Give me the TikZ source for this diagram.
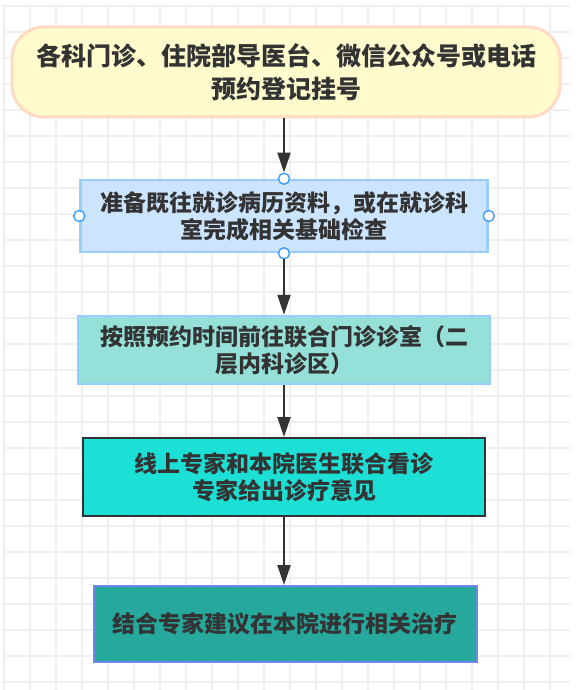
\documentclass[tikz,border=0pt]{standalone}
\usepackage{fontspec}
\usetikzlibrary{arrows.meta}
\newfontfamily\cjk{Noto Sans CJK SC}
\definecolor{gridc}{HTML}{EFEFEF}
\definecolor{txt}{HTML}{333333}
\definecolor{yfill}{HTML}{FFFBCC}
\definecolor{ydraw}{HTML}{FFDAC4}
\definecolor{bfill}{HTML}{CCE5FF}
\definecolor{bdraw}{HTML}{99CCFF}
\definecolor{tfill}{HTML}{95E1D9}
\definecolor{cfill}{HTML}{1CE0D6}
\definecolor{dfill}{HTML}{26A89D}
\definecolor{ddraw}{HTML}{6F85EE}
\definecolor{hdraw}{HTML}{3D9BFF}
\begin{document}
\begin{tikzpicture}[x=1pt,y=-1pt,
  box/.style={rectangle,align=center,text=txt,inner sep=0pt,
    font={\cjk\bfseries\fontsize{23}{27}\selectfont}},
  arr/.style={draw=txt,line width=2pt,-{Triangle[width=13pt,length=20pt]}},
  handle/.style={circle,fill=white,draw=hdraw,line width=1.4pt,minimum size=11pt,inner sep=0pt}]
\useasboundingbox (0,0) rectangle (581,690);
\fill[white] (0,0) rectangle (581,690);
% grid
\foreach \k in {0,...,21} {\draw[gridc,line width=1.5pt] (4+26*\k,6) -- (4+26*\k,690);}
\foreach \k in {0,...,26} {\draw[gridc,line width=1.5pt] (4,6+26*\k) -- (570,6+26*\k);}
% boxes
\node[box,draw=ydraw,fill=yfill,line width=3pt,rounded corners=32pt,
  minimum width=548pt,minimum height=90pt,
  font={\cjk\bfseries\fontsize{25}{33}\selectfont}] (b1) at (286,72)
  {各科门诊、住院部导医台、微信公众号或电话\\预约登记挂号};
\node[box,draw=bdraw,fill=bfill,line width=2.5pt,minimum width=407pt,minimum height=72pt] (b2) at (284,216)
  {准备既往就诊病历资料，或在就诊科\\室完成相关基础检查};
\node[box,draw=bdraw,fill=tfill,line width=2.5pt,minimum width=412pt,minimum height=68pt] (b3) at (284,350)
  {按照预约时间前往联合门诊诊室（二\\层内科诊区）};
\node[box,draw=txt,fill=cfill,line width=2pt,minimum width=402pt,minimum height=78pt] (b4) at (284,477)
  {线上专家和本院医生联合看诊\\专家给出诊疗意见};
\node[box,draw=ddraw,fill=dfill,line width=2pt,minimum width=383pt,minimum height=76pt] (b5) at (285,624)
  {结合专家建议在本院进行相关治疗};
% handles
\node[handle] (h1) at (b2.north) {};
\node[handle] (h2) at (b2.south) {};
\node[handle] (h3) at (b2.west) {};
\node[handle] (h4) at (b2.east) {};
% arrows
\draw[arr] (b1.south -| b2.north) -- (h1.north);
\draw[arr] (h2.south) -- (b3.north);
\draw[arr] (b3.south -| b2.north) -- (b4.north -| b2.north);
\draw[arr] (b4.south -| b2.north) -- (b5.north -| b2.north);
\end{tikzpicture}
\end{document}
